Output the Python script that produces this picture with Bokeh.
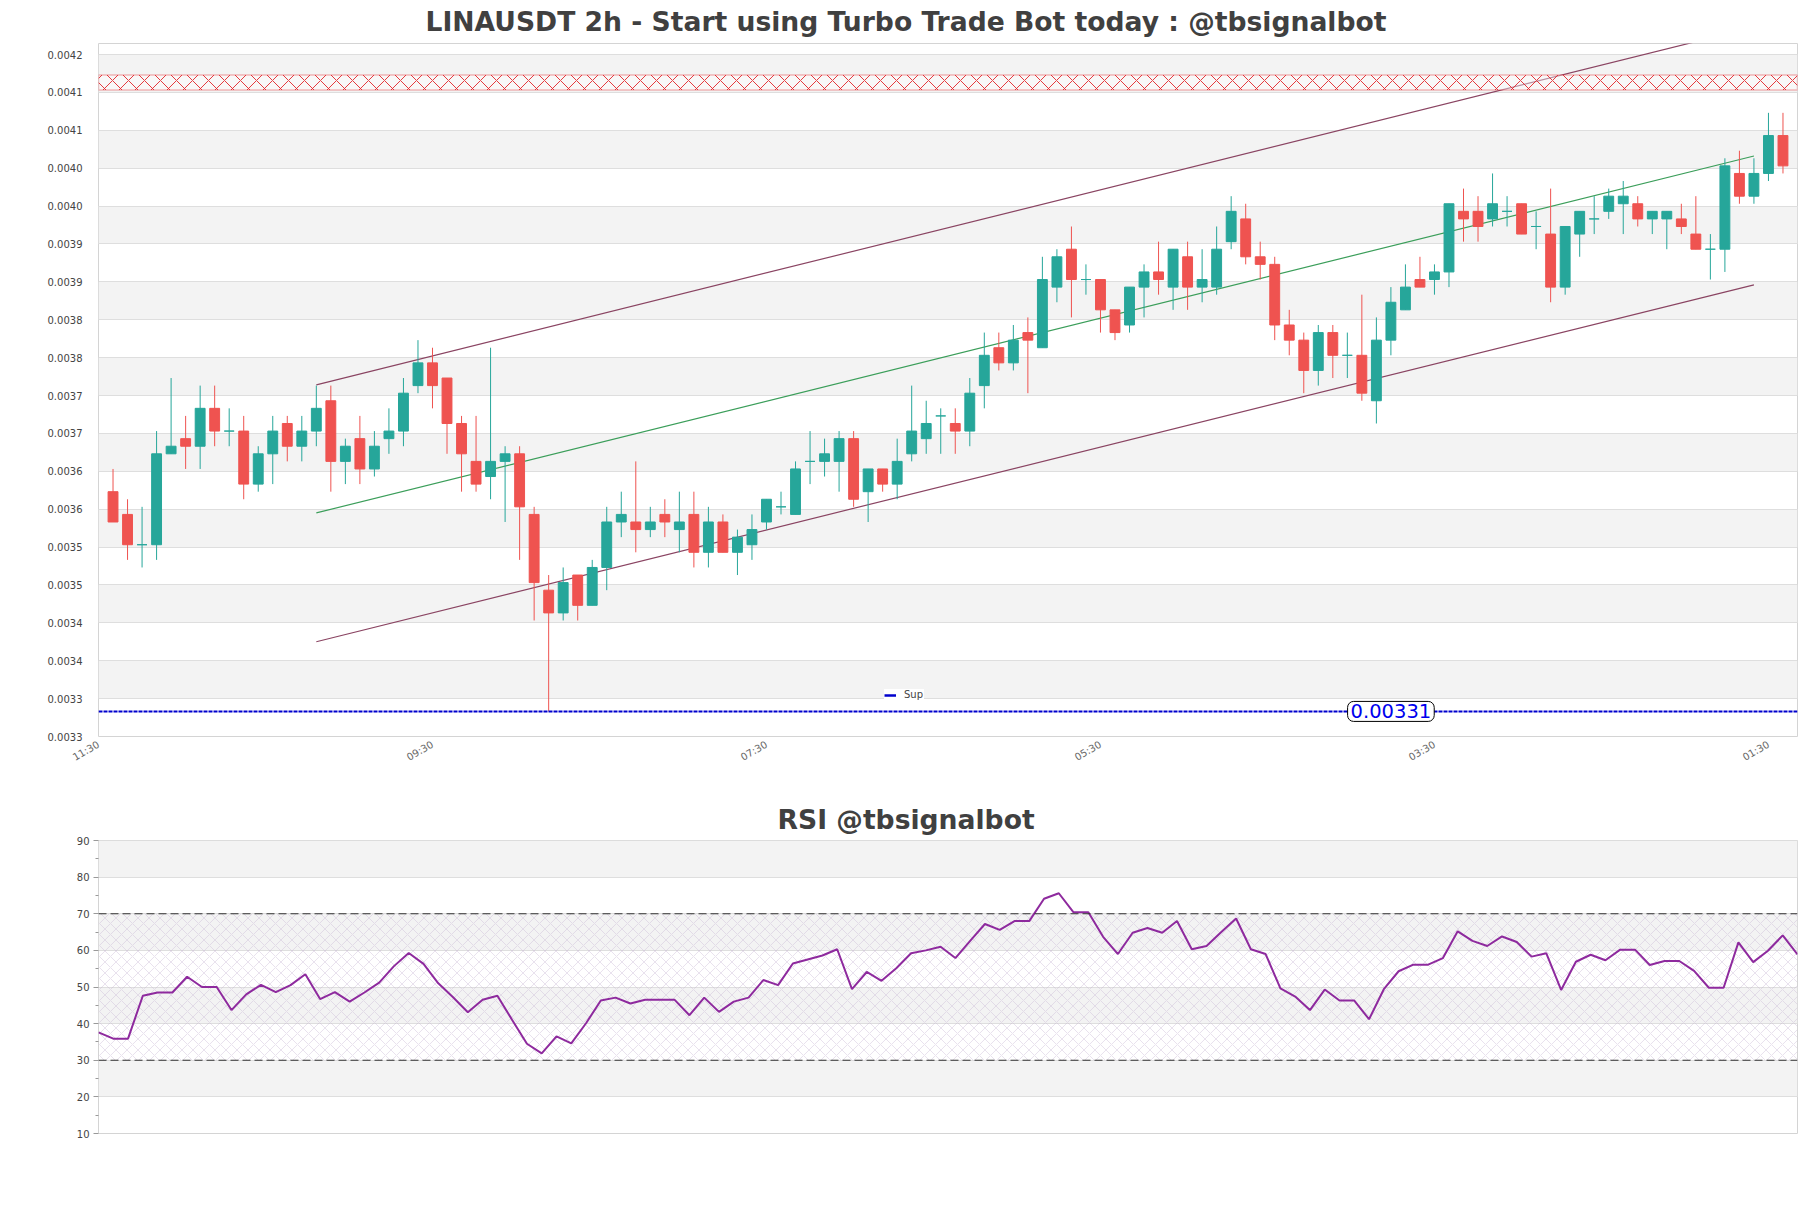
import math
import numpy as np
from bokeh.plotting import figure
from bokeh.models import (Range1d, FixedTicker, PrintfTickFormatter, BoxAnnotation, Span,
                          Label, Legend, LegendItem, ColumnDataSource)
from bokeh.layouts import column
from bokeh.embed import file_html
from bokeh.resources import INLINE

# ---------------- data ----------------
opens = [0.00360, 0.00357, 0.00353, 0.00353, 0.00365, 0.00367, 0.00366, 0.00371, 0.00368, 0.00368,
         0.00361, 0.00365, 0.00369, 0.00366, 0.00368, 0.00372, 0.00364, 0.00367, 0.00363, 0.00367,
         0.00368, 0.00374, 0.00377, 0.00375, 0.00369, 0.00364, 0.00362, 0.00364, 0.00365, 0.00357,
         0.00347, 0.00344, 0.00349, 0.00345, 0.00350, 0.00356, 0.00356, 0.00355, 0.00357, 0.00355,
         0.00357, 0.00352, 0.00356, 0.00352, 0.00353, 0.00356, 0.00358, 0.00357, 0.00364, 0.00364,
         0.00364, 0.00367, 0.00360, 0.00363, 0.00361, 0.00365, 0.00367, 0.00370, 0.00369, 0.00368,
         0.00374, 0.00379, 0.00377, 0.00381, 0.00379, 0.00387, 0.00392, 0.00388, 0.00388, 0.00384,
         0.00382, 0.00387, 0.00389, 0.00387, 0.00391, 0.00387, 0.00387, 0.00393, 0.00396, 0.00391,
         0.00390, 0.00382, 0.00380, 0.00376, 0.00381, 0.00378, 0.00378, 0.00372, 0.00380, 0.00384,
         0.00388, 0.00388, 0.00389, 0.00397, 0.00397, 0.00396, 0.00397, 0.00398, 0.00395, 0.00394,
         0.00387, 0.00394, 0.00396, 0.00397, 0.00398, 0.00398, 0.00396, 0.00396, 0.00396, 0.00394,
         0.00392, 0.00392, 0.00402, 0.00399, 0.00402, 0.00407]
highs = [0.00363, 0.00359, 0.00358, 0.00368, 0.00375, 0.00370, 0.00374, 0.00374, 0.00371, 0.00370,
         0.00366, 0.00370, 0.00370, 0.00370, 0.00374, 0.00374, 0.00367, 0.00370, 0.00368, 0.00371,
         0.00375, 0.00380, 0.00379, 0.00375, 0.00370, 0.00370, 0.00379, 0.00366, 0.00366, 0.00358,
         0.00349, 0.00350, 0.00349, 0.00351, 0.00358, 0.00360, 0.00364, 0.00358, 0.00359, 0.00360,
         0.00360, 0.00358, 0.00357, 0.00355, 0.00357, 0.00359, 0.00360, 0.00364, 0.00368, 0.00367,
         0.00368, 0.00368, 0.00363, 0.00363, 0.00367, 0.00374, 0.00372, 0.00371, 0.00371, 0.00375,
         0.00381, 0.00381, 0.00382, 0.00383, 0.00391, 0.00392, 0.00395, 0.00390, 0.00388, 0.00384,
         0.00387, 0.00390, 0.00393, 0.00392, 0.00393, 0.00392, 0.00395, 0.00399, 0.00398, 0.00393,
         0.00391, 0.00384, 0.00381, 0.00382, 0.00382, 0.00381, 0.00386, 0.00383, 0.00387, 0.00390,
         0.00391, 0.00390, 0.00398, 0.00400, 0.00399, 0.00402, 0.00399, 0.00398, 0.00397, 0.00400,
         0.00395, 0.00397, 0.00399, 0.00400, 0.00401, 0.00399, 0.00397, 0.00397, 0.00398, 0.00399,
         0.00394, 0.00404, 0.00405, 0.00404, 0.00410, 0.00410]
lows = [0.00356, 0.00351, 0.00350, 0.00351, 0.00365, 0.00363, 0.00363, 0.00366, 0.00366, 0.00359,
        0.00360, 0.00361, 0.00364, 0.00364, 0.00366, 0.00360, 0.00361, 0.00361, 0.00362, 0.00365,
        0.00366, 0.00373, 0.00371, 0.00365, 0.00360, 0.00360, 0.00359, 0.00356, 0.00351, 0.00343,
        0.00331, 0.00343, 0.00343, 0.00345, 0.00347, 0.00354, 0.00352, 0.00354, 0.00354, 0.00352,
        0.00350, 0.00350, 0.00352, 0.00349, 0.00351, 0.00355, 0.00357, 0.00357, 0.00361, 0.00362,
        0.00360, 0.00358, 0.00356, 0.00360, 0.00359, 0.00364, 0.00365, 0.00365, 0.00365, 0.00366,
        0.00371, 0.00376, 0.00376, 0.00373, 0.00379, 0.00385, 0.00383, 0.00386, 0.00381, 0.00380,
        0.00381, 0.00383, 0.00386, 0.00384, 0.00384, 0.00385, 0.00386, 0.00392, 0.00390, 0.00388,
        0.00380, 0.00378, 0.00373, 0.00374, 0.00375, 0.00375, 0.00372, 0.00369, 0.00378, 0.00384,
        0.00387, 0.00386, 0.00387, 0.00393, 0.00393, 0.00395, 0.00395, 0.00394, 0.00392, 0.00385,
        0.00386, 0.00391, 0.00394, 0.00396, 0.00394, 0.00395, 0.00394, 0.00392, 0.00394, 0.00392,
        0.00388, 0.00389, 0.00398, 0.00398, 0.00401, 0.00402]
closes = [0.00356, 0.00353, 0.00353, 0.00365, 0.00366, 0.00366, 0.00371, 0.00368, 0.00368, 0.00361,
          0.00365, 0.00368, 0.00366, 0.00368, 0.00371, 0.00364, 0.00366, 0.00363, 0.00366, 0.00368,
          0.00373, 0.00377, 0.00374, 0.00369, 0.00365, 0.00361, 0.00364, 0.00365, 0.00358, 0.00348,
          0.00344, 0.00348, 0.00345, 0.00350, 0.00356, 0.00357, 0.00355, 0.00356, 0.00356, 0.00356,
          0.00352, 0.00356, 0.00352, 0.00354, 0.00355, 0.00359, 0.00358, 0.00363, 0.00364, 0.00365,
          0.00367, 0.00359, 0.00363, 0.00361, 0.00364, 0.00368, 0.00369, 0.00370, 0.00368, 0.00373,
          0.00378, 0.00377, 0.00380, 0.00380, 0.00388, 0.00391, 0.00388, 0.00388, 0.00384, 0.00381,
          0.00387, 0.00389, 0.00388, 0.00392, 0.00387, 0.00388, 0.00392, 0.00397, 0.00391, 0.00390,
          0.00382, 0.00380, 0.00376, 0.00381, 0.00378, 0.00378, 0.00373, 0.00380, 0.00385, 0.00387,
          0.00387, 0.00389, 0.00398, 0.00396, 0.00395, 0.00398, 0.00397, 0.00394, 0.00395, 0.00387,
          0.00395, 0.00397, 0.00396, 0.00399, 0.00399, 0.00396, 0.00397, 0.00397, 0.00395, 0.00392,
          0.00392, 0.00403, 0.00399, 0.00402, 0.00407, 0.00403]
rsi = [37.6, 35.9, 35.9, 47.6, 48.5, 48.5, 52.8, 50.0, 50.0, 43.7,
       48.0, 50.6, 48.6, 50.5, 53.5, 46.7, 48.6, 46.0, 48.5, 51.2,
       55.7, 59.3, 56.3, 51.0, 47.2, 43.1, 46.5, 47.6, 41.0, 34.5,
       31.9, 36.5, 34.6, 40.1, 46.3, 47.1, 45.5, 46.5, 46.5, 46.5,
       42.3, 47.1, 43.2, 46.0, 47.1, 51.9, 50.5, 56.4, 57.5, 58.6,
       60.3, 49.4, 54.1, 51.7, 55.1, 59.2, 60.0, 61.0, 57.9, 62.6,
       67.2, 65.6, 68.0, 68.0, 74.1, 75.6, 70.4, 70.4, 63.7, 59.0,
       64.8, 66.1, 64.8, 68.0, 60.3, 61.2, 65.0, 68.7, 60.3, 59.0,
       49.6, 47.4, 43.7, 49.3, 46.3, 46.3, 41.2, 49.4, 54.3, 56.1,
       56.1, 57.9, 65.2, 62.6, 61.2, 63.8, 62.3, 58.3, 59.2, 49.2,
       56.9, 58.8, 57.3, 60.2, 60.2, 56.0, 57.1, 57.1, 54.4, 49.8,
       49.8, 62.2, 56.8, 59.9, 64.1, 58.9]

time_labels = ["11:30", "09:30", "07:30", "05:30", "03:30", "01:30"]
time_label_index = [-1, 22, 45, 68, 91, 114]

support_level = 0.00331
support_label_index = 88
resist_low = 0.00413
resist_high = 0.00415

channel_index = [14, 113]
channel_upper = [0.003741, 0.004213]
channel_mid = [0.003572, 0.004043]
channel_lower = [0.003402, 0.003873]

rsi_ticks = [10, 20, 30, 40, 50, 60, 70, 80, 90]
rsi_minor = [15, 25, 35, 45, 55, 65, 75, 85]
rsi_upper, rsi_lower = 70, 30

# ---------------- derived ----------------
N = len(opens)
idx = list(range(N))
y_lo = support_level * 0.99
y_hi = resist_high * 1.01
y_step = 0.00005
n_ticks = int((y_hi - y_lo) / y_step) + 1
y_ticks = [y_lo + k * y_step for k in range(n_ticks)]

UP = "#26a69a"
DOWN = "#ef5350"
FONT = "DejaVu Sans"

o = np.array(opens); c = np.array(closes)
colors = [UP if cc >= oo else DOWN for oo, cc in zip(opens, closes)]
src = ColumnDataSource(dict(x=idx, high=highs, low=lows,
                            top=np.maximum(o, c), bottom=np.minimum(o, c), color=colors))

# ---------------- main chart ----------------
p = figure(width=1811, height=780, x_range=Range1d(-1, N), y_range=Range1d(y_lo, y_hi),
           output_backend="svg", toolbar_location=None,
           min_border_left=98, min_border_right=14, min_border_top=43, min_border_bottom=44,
           background_fill_color="white", border_fill_color="white",
           outline_line_color="#d4d4d4")

p.title.text = "LINAUSDT 2h - Start using Turbo Trade Bot today : @tbsignalbot"
p.title.text_font = FONT
p.title.text_font_style = "bold"
p.title.text_font_size = "26.6px"
p.title.text_color = "#404040"
p.title.align = "left"
p.title.offset = 327
p.title.vertical_align = "top"
p.title.standoff = 10

# alternating bands
band_b = [y_ticks[k] for k in range(len(y_ticks)) if k % 2 == 1]
band_t = [min(y_ticks[k] + y_step, y_hi) for k in range(len(y_ticks)) if k % 2 == 1]
p.quad(left=-1, right=N, bottom=band_b, top=band_t, fill_color="#f3f3f3",
       line_color=None, level="image")

p.yaxis.ticker = FixedTicker(ticks=y_ticks)
p.yaxis.formatter = PrintfTickFormatter(format="%.4f")
p.yaxis.axis_line_color = None
p.yaxis.major_tick_line_color = None
p.yaxis.minor_tick_line_color = None
p.yaxis.major_label_standoff = 10
p.yaxis.major_label_text_font = FONT
p.yaxis.major_label_text_font_size = "10px"
p.yaxis.major_label_text_color = "#444444"
p.ygrid.grid_line_color = "#dedede"
p.xgrid.visible = False

p.xaxis.ticker = FixedTicker(ticks=time_label_index)
p.xaxis.major_label_overrides = {k: v for k, v in zip(time_label_index, time_labels)}
p.xaxis.major_label_orientation = math.pi / 6
p.xaxis.axis_line_color = None
p.xaxis.major_tick_line_color = None
p.xaxis.minor_tick_line_color = None
p.xaxis.major_label_standoff = 1
p.xaxis.major_label_text_font = FONT
p.xaxis.major_label_text_font_size = "10px"
p.xaxis.major_label_text_color = "#666666"

# resistance zone
p.add_layout(BoxAnnotation(bottom=resist_low, top=resist_high, fill_color="white", fill_alpha=0.4,
                           hatch_pattern="diagonal_cross", hatch_color="#e3262a", hatch_scale=16,
                           hatch_weight=1, hatch_alpha=0.9,
                           line_color="#e3262a", line_width=1.5))

# channel lines
p.line(channel_index, channel_upper, line_color="#8a4462", line_width=1.2)
p.line(channel_index, channel_mid, line_color="#3b9e5a", line_width=1.2)
p.line(channel_index, channel_lower, line_color="#8a4462", line_width=1.2)

# candles
p.segment(x0="x", y0="low", x1="x", y1="high", color="color", line_width=1, source=src)
p.vbar(x="x", width=0.68, top="top", bottom="bottom", fill_color="color",
       line_color="color", line_width=1, source=src)

# support
p.line([-1, N], [support_level, support_level], line_color="#0000cd",
       line_width=2, line_dash="4 1")
sup_key = p.line([float("nan")], [float("nan")], line_color="#0000cd", line_width=2.5)
p.add_layout(Label(x=support_label_index, y=support_level, text=f"{support_level:.5f}",
                   text_font=FONT, text_font_size="19.5px", text_color="#0000ee",
                   text_align="center", text_baseline="middle",
                   background_fill_color="white", border_line_color="black",
                   border_line_width=1, padding=3, border_radius=6))

legend = Legend(items=[LegendItem(label="Sup", renderers=[sup_key])], location=(786, 36),
                label_text_font=FONT, label_text_font_size="10px", label_height=10,
                glyph_height=10, glyph_width=12, padding=3, margin=0, spacing=0,
                label_standoff=8, border_line_color=None, background_fill_alpha=1)
p.add_layout(legend)

# ---------------- RSI chart ----------------
p2 = figure(width=1811, height=420, x_range=Range1d(0, N - 1), y_range=Range1d(10, 90),
            output_backend="svg", toolbar_location=None,
            min_border_left=98, min_border_right=14, min_border_top=60, min_border_bottom=67,
            background_fill_color="white", border_fill_color="white",
            outline_line_color="#d4d4d4")
p2.title.text = "RSI @tbsignalbot"
p2.title.text_font = FONT
p2.title.text_font_style = "bold"
p2.title.text_font_size = "26.6px"
p2.title.text_color = "#404040"
p2.title.align = "left"
p2.title.offset = 679
p2.title.vertical_align = "bottom"
p2.title.standoff = 12

rb = [rsi_ticks[k] for k in range(len(rsi_ticks) - 1) if k % 2 == 1]
rt = [rsi_ticks[k + 1] for k in range(len(rsi_ticks) - 1) if k % 2 == 1]
p2.quad(left=0, right=N - 1, bottom=rb, top=rt, fill_color="#f3f3f3", line_color=None, level="image")

p2.add_layout(BoxAnnotation(bottom=rsi_lower, top=rsi_upper, fill_alpha=0,
                            hatch_pattern="diagonal_cross", hatch_color="#c4b2d2",
                            hatch_alpha=0.55, hatch_scale=11, hatch_weight=0.7,
                            line_alpha=0, level="underlay"))
for lv in (rsi_upper, rsi_lower):
    p2.add_layout(Span(location=lv, dimension="width", line_color="#333333",
                       line_dash="8 4", line_width=1.2))

p2.line(idx, rsi, line_color="#8e2a9e", line_width=2)

p2.xaxis.visible = False
p2.xgrid.visible = False
p2.yaxis.ticker = FixedTicker(ticks=rsi_ticks, minor_ticks=rsi_minor)
p2.yaxis.axis_line_color = None
p2.yaxis.major_tick_line_color = "#999999"
p2.yaxis.minor_tick_line_color = "#999999"
p2.yaxis.major_tick_out = 5
p2.yaxis.major_tick_in = 0
p2.yaxis.minor_tick_out = 3
p2.yaxis.minor_tick_in = 0
p2.yaxis.major_label_standoff = 4
p2.yaxis.major_label_text_font = FONT
p2.yaxis.major_label_text_font_size = "10px"
p2.yaxis.major_label_text_color = "#444444"
p2.ygrid.grid_line_color = "#dedede"

layout = column(p, p2, spacing=0)
open("out.html", "w").write(file_html(layout, INLINE))
